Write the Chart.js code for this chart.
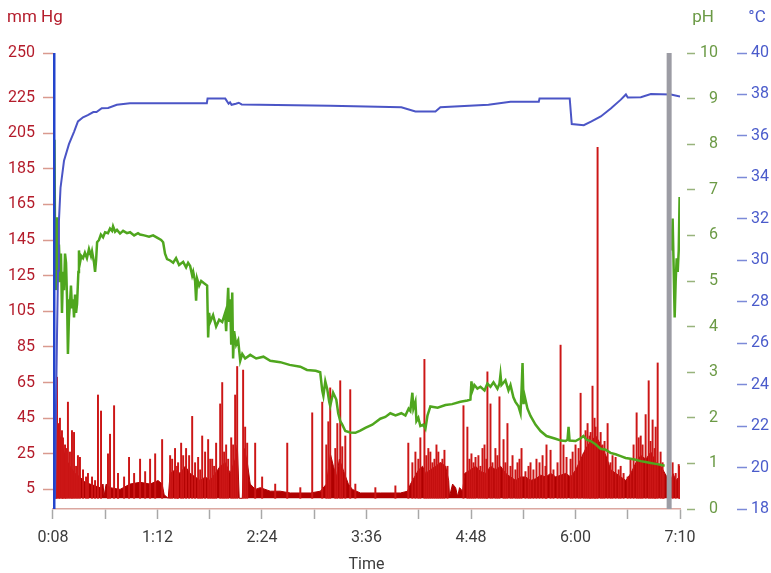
<!DOCTYPE html>
<html>
<head>
<meta charset="UTF-8">
<title>mm Hg / pH / °C</title>
<script src="https://cdn.jsdelivr.net/npm/chart.js"></script>
<style>
  body { margin: 0; background: #fff; }
  #wrap { width: 771px; height: 573px; }
</style>
</head>
<body>
<div id="wrap"><canvas id="chart" width="771" height="573"></canvas></div>
<script>
// time axis (minutes from start of recording), labels at every 72 min
const xTickLabels = ['0:08', '1:12', '2:24', '3:36', '4:48', '6:00', '7:10'];
const pressureTicks = [5, 25, 45, 65, 85, 105, 125, 145, 165, 185, 205, 225, 250];

// mm Hg - background level (filled)
const pressureBaseTimes = [1.0, 1.4, 2.8, 4.8, 6.9, 9.0, 11.7, 15.2, 18.6, 22.1, 25.5, 29.0, 32.4, 34.5, 35.2, 36.6, 39.3, 46.2, 53.1, 60.0,
  66.9, 72.4, 75.2, 76.6, 79.4, 80.7, 84.2, 87.6, 91.1, 94.5, 98.0, 101.4, 104.9, 108.3, 111.8, 115.2, 118.7, 122.1, 125.6, 127.0,
  128.3, 130.4, 131.8, 133.9, 135.9, 139.4, 142.8, 149.7, 156.6, 163.5, 170.4, 177.3, 184.2, 188.4, 191.1, 193.2, 195.3, 197.3, 200.8, 203.5,
  206.3, 211.8, 225.6, 239.4, 244.3, 246.3, 249.1, 251.9, 254.6, 256.7, 260.1, 263.6, 267.0, 270.5, 272.6, 273.2, 275.3, 277.4, 278.8, 280.1,
  282.2, 283.6, 287.7, 291.2, 294.6, 298.1, 301.5, 305.0, 308.4, 311.9, 315.3, 318.8, 322.2, 325.7, 329.1, 332.6, 336.0, 339.5, 342.9, 346.4,
  349.8, 353.3, 356.7, 360.2, 363.6, 367.1, 370.5, 374.0, 377.4, 380.9, 384.3, 387.8, 391.2, 394.7, 398.1, 401.6, 405.0, 408.5, 411.9, 415.4,
  418.8, 421.6, 423.0, 425.7, 427.1, 429.2, 431.3, 432.0, 432.0];
const pressureBaseValues = [0, 45, 40, 35, 28, 22, 18, 14, 12, 9, 8, 7, 6, 8, 1, 8, 6, 5, 8, 9,
  8, 10, 8, 2, 0, 14, 16, 14, 18, 14, 12, 10, 12, 10, 14, 18, 20, 14, 22, 30,
  0, 0, 28, 20, 8, 5, 6, 4, 4, 3, 3, 3, 4, 8, 25, 18, 12, 22, 14, 8,
  5, 3, 3, 3, 4, 8, 12, 16, 18, 14, 16, 18, 20, 18, 10, 1, 8, 6, 1, 6,
  4, 14, 16, 18, 15, 14, 18, 16, 18, 14, 12, 10, 12, 12, 10, 11, 13, 12, 14, 12,
  13, 14, 12, 16, 22, 28, 32, 35, 30, 24, 16, 14, 12, 10, 14, 20, 24, 22, 26, 20,
  18, 14, 12, 10, 14, 10, 12, 10, 0];

// mm Hg - individual peaks
const spikeTimes = [2.8, 4.1, 6.2, 8.3, 10.3, 13.1, 14.5, 17.2, 18.6, 20.7, 24.1, 26.9, 31.0, 33.1, 37.9, 39.3, 42.1, 44.8, 49.0, 52.4,
  55.9, 60.0, 63.5, 66.9, 70.4, 75.2, 80.7, 82.1, 84.1, 86.2, 88.3, 91.7, 93.8, 95.9, 100.0, 102.8, 104.8, 106.9, 109.7, 112.4,
  115.2, 116.6, 119.3, 122.8, 125.5, 126.9, 131.0, 132.4, 133.8, 139.3, 144.1, 153.1, 161.4, 170.4, 178.6, 185.5, 188.3, 189.7, 191.0, 194.5,
  195.9, 197.9, 199.3, 201.4, 204.8, 208.3, 222.1, 235.9, 244.8, 247.6, 249.7, 253.1, 255.9, 258.6, 261.4, 264.2, 266.9, 269.7, 282.8, 285.5,
  288.3, 291.1, 294.5, 297.3, 299.3, 301.4, 304.8, 307.6, 310.4, 313.1, 316.6, 320.0, 322.8, 325.5, 329.0, 333.1, 337.3, 340.0, 342.8, 347.6,
  349.7, 351.7, 353.8, 356.6, 360.0, 363.5, 365.5, 368.3, 370.4, 371.7, 373.1, 375.2, 377.3, 380.0, 382.1, 385.5, 387.6, 391.1, 395.9, 400.0,
  402.1, 404.9, 408.3, 410.4, 413.1, 415.2, 416.6, 418.6, 420.7, 426.9, 429.0, 431.1, 432.0];
const spikeValues = [68, 42, 38, 30, 54, 38, 37, 24, 23, 16, 14, 12, 58, 49, 25, 36, 52, 14, 12, 23,
  14, 22, 15, 22, 25, 33, 24, 22, 28, 20, 31, 28, 24, 46, 23, 35, 26, 33, 22, 31,
  53, 65, 30, 34, 58, 74, 72, 40, 31, 31, 12, 8, 31, 6, 48, 54, 30, 43, 62, 28,
  42, 66, 29, 35, 61, 8, 6, 7, 31, 20, 26, 34, 78, 28, 20, 30, 20, 27, 52, 40,
  25, 23, 18, 30, 71, 53, 28, 57, 33, 42, 24, 20, 28, 15, 20, 22, 24, 30, 27, 20,
  86, 30, 23, 22, 30, 59, 25, 42, 37, 63, 45, 197, 37, 32, 42, 24, 23, 18, 12, 30,
  48, 35, 47, 66, 44, 40, 76, 26, 14, 20, 14, 19, 18];

// mm Hg - smaller peaks inside the dense parts
const smallPeakTimes = [2.1, 4.8, 6.9, 9.0, 11.7, 15.9, 22.8, 29.0, 85.5, 89.7, 97.9, 101.4, 108.3, 111.0, 117.9, 120.7, 124.1,
  251.7, 257.2, 260.0, 262.8, 265.5, 268.3, 271.8, 286.9, 289.7, 293.1, 295.9, 298.6, 302.8, 306.2, 311.7, 315.2, 318.6, 321.4,
  327.6, 331.0, 335.2, 339.3, 344.8, 358.0, 362.1, 366.9, 369.7, 373.8, 378.6, 384.1, 389.7, 393.1, 397.9, 403.5, 406.2, 411.7, 414.5, 420.0];
const smallPeakValues = [50, 45, 34, 28, 26, 18, 12, 10, 18, 24, 20, 16, 22, 18, 26, 22, 30,
  22, 24, 26, 22, 26, 22, 18, 22, 20, 24, 28, 22, 20, 24, 20, 18, 16, 22,
  18, 16, 20, 18, 16, 26, 28, 38, 35, 40, 30, 20, 16, 14, 22, 34, 30, 32, 28, 20];

// pH
const phTimes = [1.0, 1.4, 2.0, 2.8, 3.5, 4.1, 4.8, 5.5, 6.2, 6.9, 7.6, 8.3, 9.0, 9.7, 10.3, 11.0, 11.7, 12.4, 13.1, 13.8,
  14.5, 15.2, 15.9, 16.6, 17.5, 17.9, 18.6, 19.5, 20.7, 22.0, 23.4, 24.8, 26.2, 26.9, 28.3, 29.0, 29.7, 30.4, 31.7, 33.0,
  34.5, 35.9, 37.9, 39.3, 40.7, 41.4, 42.8, 44.1, 46.2, 48.3, 51.0, 53.1, 55.9, 58.6, 60.0, 62.8, 66.2, 69.0, 71.7, 74.5,
  75.9, 77.2, 78.6, 80.7, 82.8, 84.8, 86.9, 89.7, 91.7, 93.1, 94.5, 95.9, 96.6, 97.9, 98.6, 99.3, 100.7, 102.1, 104.1, 106.2,
  106.9, 107.6, 108.3, 110.3, 112.4, 114.5, 116.6, 118.6, 119.3, 120.7, 121.4, 122.1, 122.8, 123.5, 124.1, 124.8, 126.2, 127.6, 129.0, 130.4,
  132.4, 135.9, 140.0, 145.0, 149.7, 156.6, 163.0, 170.4, 175.0, 181.0, 184.1, 185.5, 186.3, 187.6, 189.0, 190.3, 191.0, 193.0, 195.2, 196.5,
  197.9, 199.3, 201.4, 204.8, 208.3, 211.7, 215.2, 220.0, 225.5, 229.0, 232.4, 236.0, 240.0, 242.8, 245.0, 246.2, 247.6, 248.3, 249.7, 250.4,
  251.7, 253.1, 255.2, 256.6, 258.0, 260.0, 265.0, 270.4, 275.0, 280.7, 285.5, 287.6, 288.3, 289.0, 290.3, 292.4, 294.5, 297.3, 299.3, 301.4,
  303.5, 306.2, 307.6, 308.3, 309.0, 311.7, 313.8, 315.2, 317.2, 318.6, 320.7, 322.1, 322.8, 323.5, 324.2, 324.8, 326.9, 329.0, 332.4, 335.9,
  340.0, 346.2, 350.0, 353.1, 354.5, 355.2, 355.9, 360.0, 363.5, 365.5, 367.6, 370.4, 373.8, 377.3, 380.7, 384.1, 387.6, 391.1, 394.5, 397.9,
  401.4, 404.9, 408.3, 411.8, 415.2, 418.6, 421.4, 423.0,
  425.5, 426.2, 426.9, 427.6, 428.3, 429.0, 429.7, 430.4, 431.1, 431.7];
const phValues = [8.1, 6.0, 4.8, 6.4, 5.0, 5.8, 5.2, 5.6, 4.3, 5.2, 4.8, 5.6, 5.4, 4.6, 3.4, 4.2, 4.5, 4.9, 4.4, 4.6,
  4.2, 4.7, 4.3, 4.5, 5.2, 5.67, 5.4, 5.55, 5.5, 5.62, 5.5, 5.7, 5.55, 5.65, 5.4, 5.2, 5.45, 5.85, 5.9, 6.02,
  5.96, 6.07, 6.05, 6.15, 6.1, 6.2, 6.08, 6.12, 6.04, 6.1, 6.05, 6.07, 6.0, 6.05, 6.02, 6.0, 5.97, 6.0, 5.95, 5.9,
  5.85, 5.6, 5.48, 5.45, 5.4, 5.5, 5.35, 5.42, 5.3, 5.4, 5.33, 5.12, 5.2, 5.0, 4.57, 5.05, 4.9, 5.0, 4.95, 4.9,
  3.76, 4.3, 4.1, 4.25, 4.0, 4.15, 4.1, 4.3, 3.9, 4.85, 4.1, 4.6, 3.6, 4.75, 3.3, 3.9, 3.6, 3.7, 3.25, 3.4,
  3.3, 3.38, 3.3, 3.34, 3.25, 3.22, 3.16, 3.12, 3.05, 3.03, 3.0, 2.6, 2.48, 2.8, 2.62, 2.35, 2.26, 2.55, 2.4, 2.1,
  1.93, 1.85, 1.71, 1.68, 1.67, 1.72, 1.78, 1.85, 1.98, 2.02, 2.1, 2.05, 2.1, 2.05, 2.2, 2.15, 2.55, 2.2, 2.35, 1.93,
  2.0, 1.82, 1.85, 1.76, 2.05, 2.25, 2.22, 2.28, 2.3, 2.35, 2.38, 2.4, 2.8, 2.6, 2.72, 2.64, 2.68, 2.6, 2.75, 2.68,
  2.78, 2.64, 2.75, 2.95, 2.72, 2.82, 2.6, 2.72, 2.45, 2.35, 2.25, 2.1, 2.6, 3.2, 2.3, 2.5, 2.2, 2.04, 1.85, 1.71,
  1.6, 1.54, 1.5, 1.49, 1.52, 1.8, 1.5, 1.49, 1.55, 1.6, 1.52, 1.49, 1.42, 1.32, 1.3, 1.23, 1.2, 1.16, 1.12, 1.1,
  1.08, 1.05, 1.03, 1.01, 0.99, 0.97, 0.95, null,
  6.1, 5.67, 6.37, 5.3, 4.2, 5.0, 5.5, 5.2, 5.67, 6.84];

// °C
const tempTimes = [1.4, 2.1, 2.8, 3.5, 4.1, 5.2, 7.6, 11.0, 14.5, 17.2, 20.7, 24.0, 27.8, 30.0, 33.6, 38.0, 44.0, 53.0, 106.0, 106.5,
  118.7, 121.0, 122.0, 123.0, 126.0, 128.0, 130.0, 191.0, 240.0, 249.7, 263.5, 266.9, 300.0, 315.2, 334.7, 335.2, 356.0, 357.4, 365.7, 371.0,
  377.4, 384.3, 391.2, 394.7, 396.0, 405.0, 411.9, 425.7, 432.0];
const tempValues = [18.5, 23, 26.5, 29.5, 31.9, 33.5, 34.8, 35.6, 36.2, 36.7, 36.9, 37.0, 37.15, 37.15, 37.34, 37.35, 37.5, 37.58, 37.58, 37.8,
  37.8, 37.55, 37.62, 37.5, 37.55, 37.6, 37.52, 37.45, 37.38, 37.18, 37.18, 37.38, 37.5, 37.65, 37.65, 37.81, 37.81, 36.57, 36.52, 36.7,
  36.94, 37.32, 37.75, 38.0, 37.85, 37.87, 38.02, 38.0, 37.9];

// start (blue) and end (grey) markers
const markerTimes = [0.7, 424.5];

const RED = '#b41c2b', GREEN = '#6b9a45', BLUE = '#4a5bcb';

const zip = (xs, ys) => xs.map((x, i) => ({ x: x, y: ys[i] }));

const axisTitles = {
  id: 'axisTitles',
  afterDraw(chart) {
    const ctx = chart.ctx, s = chart.scales;
    ctx.save();
    ctx.font = '17px Roboto';
    ctx.textBaseline = 'middle';
    ctx.textAlign = 'left';
    ctx.fillStyle = RED;
    ctx.fillText('mm Hg', 7, 18);
    ctx.textAlign = 'center';
    ctx.fillStyle = GREEN;
    ctx.fillText('pH', s.y1.right - 15, 18);
    ctx.fillStyle = BLUE;
    ctx.fillText('°C', s.y2.right - 12, 18);
    ctx.restore();
  }
};

Chart.defaults.font.family = 'Roboto';
Chart.defaults.font.size = 16;

new Chart(document.getElementById('chart'), {
  type: 'line',
  data: {
    datasets: [
      {
        label: 'mm Hg',
        data: zip(pressureBaseTimes, pressureBaseValues),
        yAxisID: 'y',
        borderColor: '#b00000',
        backgroundColor: '#b00000',
        borderWidth: 1,
        pointRadius: 0,
        fill: 'origin',
        order: 5
      },
      {
        type: 'bar',
        label: 'mm Hg peaks',
        data: zip(spikeTimes, spikeValues).concat(zip(smallPeakTimes, smallPeakValues)),
        yAxisID: 'y',
        backgroundColor: '#cc1616',
        barThickness: 1.3,
        order: 4
      },
      {
        label: 'pH',
        data: zip(phTimes, phValues),
        yAxisID: 'y1',
        borderColor: '#4fa61e',
        borderWidth: 2.5,
        pointRadius: 0,
        spanGaps: false,
        order: 3
      },
      {
        label: '°C',
        data: zip(tempTimes, tempValues),
        yAxisID: 'y2',
        borderColor: '#4b55c6',
        borderWidth: 2,
        pointRadius: 0,
        order: 2
      },
      {
        label: 'start',
        data: [{ x: markerTimes[0], y: 18 }, { x: markerTimes[0], y: 40 }],
        yAxisID: 'y2',
        borderColor: '#2344cc',
        borderWidth: 3,
        pointRadius: 0,
        order: 1
      },
      {
        label: 'end',
        data: [{ x: markerTimes[1], y: 0 }, { x: markerTimes[1], y: 10 }],
        yAxisID: 'y1',
        borderColor: '#9c9ca4',
        borderWidth: 5,
        pointRadius: 0,
        order: 0
      }
    ]
  },
  options: {
    responsive: false,
    animation: false,
    layout: { padding: { top: 53, left: 0, right: 2, bottom: 0 } },
    plugins: { legend: { display: false }, tooltip: { enabled: false } },
    scales: {
      x: {
        type: 'linear',
        min: 0,
        max: 432,
        offset: false,
        afterBuildTicks: scale => {
          const t = [];
          for (let v = 0; v <= 432; v += 36) t.push({ value: v });
          scale.ticks = t;
        },
        ticks: {
          autoSkip: false,
          maxRotation: 0,
          color: '#3c3c3c',
          padding: 11,
          font: { size: 16, lineHeight: 1 },
          callback: v => (v % 72 === 0 ? xTickLabels[v / 72] : '')
        },
        grid: { drawOnChartArea: false, offset: false, tickLength: 10, tickColor: '#a8a8a8', tickWidth: 1.5 },
        border: { color: '#dba7a0', width: 1.5 },
        title: { display: true, text: 'Time', color: '#3c3c3c', font: { size: 16, lineHeight: 1 }, padding: 0 }
      },
      y: {
        position: 'left',
        min: -6,
        max: 250,
        afterBuildTicks: scale => { scale.ticks = pressureTicks.map(v => ({ value: v })); },
        ticks: { color: RED, padding: 8 },
        grid: { drawOnChartArea: false, tickLength: 10, tickColor: '#d99a8f', tickWidth: 1.5 },
        border: { display: false }
      },
      y1: {
        position: 'right',
        min: 0,
        max: 10,
        ticks: { stepSize: 1, color: GREEN, padding: 2, crossAlign: 'far' },
        grid: { drawOnChartArea: false, tickLength: 16, tickColor: '#98b37c', tickWidth: 1.5, tickBorderDash: [0, 7, 8, 40] },
        border: { display: false }
      },
      y2: {
        position: 'right',
        min: 18,
        max: 40,
        ticks: { stepSize: 2, color: BLUE, padding: 2, crossAlign: 'far' },
        grid: { drawOnChartArea: false, tickLength: 29, tickColor: '#7c8ad8', tickWidth: 1.5, tickBorderDash: [0, 19, 10, 40] },
        border: { display: false }
      }
    }
  },
  plugins: [axisTitles]
});
</script>
</body>
</html>
